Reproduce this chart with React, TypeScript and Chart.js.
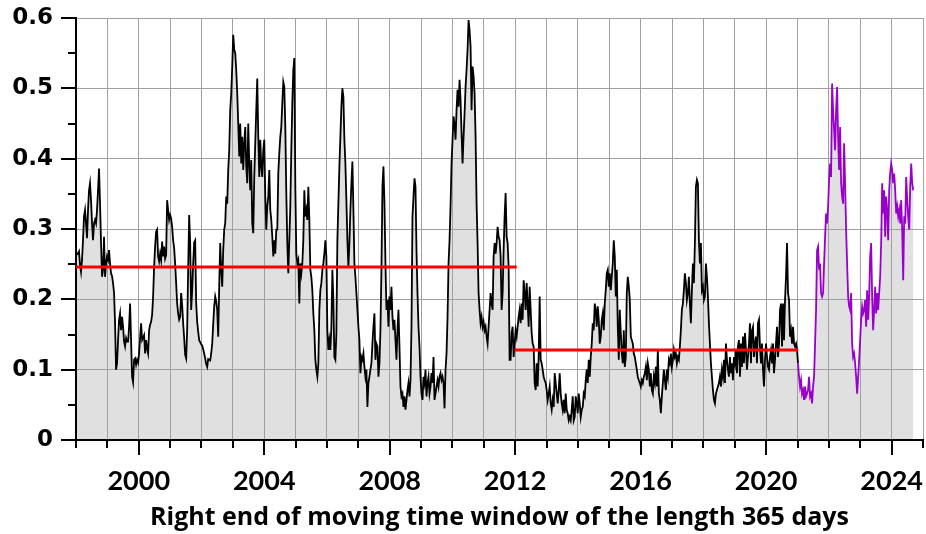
import React, { useEffect, useRef } from 'react';
import { Chart, registerables } from 'chart.js';

Chart.register(...registerables);

// Sampling of the moving-window series (right end of the 365-day window)
const START_YEAR = 1998.0;
const SAMPLE_DAYS = 11.66;
const PURPLE_FROM_YEAR = 2021.0;

const v1998_2002 = [
  0.268, 0.264, 0.265, 0.268, 0.249, 0.239, 0.256, 0.284, 0.318, 0.327,
  0.308, 0.287, 0.327, 0.355, 0.365, 0.341, 0.308, 0.284, 0.308, 0.313,
  0.308, 0.327, 0.355, 0.386, 0.336, 0.280, 0.232, 0.242, 0.289, 0.232,
  0.251, 0.261, 0.256, 0.270, 0.251, 0.237, 0.233, 0.223, 0.209, 0.166,
  0.100, 0.109, 0.142, 0.171, 0.180, 0.156, 0.175, 0.161, 0.140, 0.133,
  0.145, 0.140, 0.140, 0.161, 0.194, 0.142, 0.090, 0.082, 0.114, 0.116,
  0.107, 0.114, 0.110, 0.123, 0.145, 0.166, 0.142, 0.145, 0.149, 0.123,
  0.142, 0.130, 0.123, 0.156, 0.164, 0.168, 0.178, 0.204, 0.246, 0.275,
  0.296, 0.299, 0.261, 0.254, 0.265, 0.256, 0.282, 0.261, 0.275, 0.258,
  0.263, 0.341, 0.327, 0.313, 0.320, 0.315, 0.303, 0.284, 0.273, 0.251,
  0.223, 0.194, 0.180, 0.171, 0.175, 0.209, 0.192, 0.166, 0.145, 0.121,
  0.116, 0.156, 0.242, 0.320, 0.280, 0.185, 0.213, 0.251, 0.281, 0.284,
  0.194, 0.168, 0.154, 0.142, 0.139, 0.136, 0.134, 0.129, 0.123, 0.116,
  0.108, 0.104, 0.115, 0.114, 0.113, 0.123, 0.137, 0.164, 0.190, 0.204,
  0.197,
];

const v2002_2006 = [
  0.185, 0.147, 0.218, 0.280, 0.242, 0.218, 0.270, 0.299, 0.308, 0.346,
  0.336, 0.384, 0.412, 0.469, 0.493, 0.531, 0.576, 0.555, 0.550, 0.526,
  0.493, 0.450, 0.403, 0.450, 0.393, 0.431, 0.384, 0.422, 0.445, 0.389,
  0.365, 0.450, 0.393, 0.355, 0.398, 0.308, 0.294, 0.374, 0.422, 0.469,
  0.514, 0.431, 0.374, 0.427, 0.389, 0.374, 0.412, 0.427, 0.346, 0.299,
  0.332, 0.346, 0.384, 0.327, 0.313, 0.289, 0.261, 0.284, 0.265, 0.299,
  0.299, 0.379, 0.408, 0.431, 0.445, 0.479, 0.509, 0.502, 0.445, 0.351,
  0.280, 0.237, 0.284, 0.332, 0.412, 0.479, 0.526, 0.543, 0.360, 0.265,
  0.251, 0.256, 0.194, 0.251, 0.237, 0.251, 0.284, 0.355, 0.318, 0.327,
  0.313, 0.360, 0.313, 0.242, 0.232, 0.213, 0.180, 0.156, 0.114, 0.100,
  0.090, 0.109, 0.185, 0.213, 0.223, 0.242, 0.251, 0.265, 0.284, 0.261,
  0.156, 0.128, 0.142, 0.128, 0.161, 0.242, 0.199, 0.118, 0.114, 0.152,
  0.284, 0.336, 0.389, 0.431, 0.474, 0.500, 0.488, 0.427, 0.393, 0.341,
  0.284, 0.246, 0.280, 0.327, 0.365, 0.396, 0.327,
];

const v2006_2011 = [
  0.251, 0.232, 0.209, 0.185, 0.161, 0.142, 0.095, 0.118, 0.114, 0.123,
  0.104, 0.090, 0.100, 0.047, 0.081, 0.090, 0.100, 0.109, 0.137, 0.161,
  0.180, 0.114, 0.137, 0.133, 0.090, 0.109, 0.156, 0.242, 0.360, 0.389,
  0.336, 0.251, 0.185, 0.199, 0.161, 0.204, 0.185, 0.218, 0.175, 0.156,
  0.171, 0.142, 0.114, 0.156, 0.185, 0.133, 0.076, 0.062, 0.066, 0.047,
  0.062, 0.043, 0.057, 0.071, 0.081, 0.062, 0.085, 0.161, 0.318, 0.346,
  0.372, 0.360, 0.270, 0.209, 0.161, 0.133, 0.090, 0.066, 0.057, 0.090,
  0.081, 0.100, 0.062, 0.081, 0.090, 0.066, 0.076, 0.095, 0.081, 0.118,
  0.057, 0.066, 0.076, 0.085, 0.076, 0.090, 0.095, 0.085, 0.090, 0.081,
  0.045, 0.100, 0.123, 0.175, 0.251, 0.284, 0.332, 0.393, 0.427, 0.460,
  0.450, 0.427, 0.469, 0.498, 0.474, 0.512, 0.483, 0.436, 0.393, 0.431,
  0.464, 0.502, 0.526, 0.555, 0.597, 0.583, 0.559, 0.469, 0.531, 0.517,
  0.493, 0.431, 0.336, 0.280, 0.209, 0.185, 0.166, 0.175, 0.161, 0.168,
  0.156, 0.161, 0.147, 0.137, 0.161, 0.185, 0.209, 0.194,
];

const v2011_2015 = [
  0.185, 0.261, 0.280, 0.265, 0.280, 0.303, 0.289, 0.284, 0.261, 0.185,
  0.209, 0.270, 0.318, 0.351, 0.289, 0.280, 0.246, 0.114, 0.114, 0.152,
  0.161, 0.118, 0.137, 0.156, 0.147, 0.161, 0.175, 0.185, 0.166, 0.194,
  0.171, 0.227, 0.209, 0.185, 0.223, 0.194, 0.161, 0.218, 0.185, 0.152,
  0.137, 0.133, 0.081, 0.071, 0.109, 0.076, 0.118, 0.204, 0.114, 0.109,
  0.100, 0.090, 0.085, 0.081, 0.071, 0.057, 0.066, 0.076, 0.052, 0.043,
  0.057, 0.047, 0.095, 0.081, 0.066, 0.052, 0.071, 0.095, 0.066, 0.052,
  0.043, 0.057, 0.038, 0.066, 0.043, 0.038, 0.028, 0.033, 0.028, 0.043,
  0.062, 0.028, 0.033, 0.062, 0.052, 0.038, 0.066, 0.052, 0.033, 0.043,
  0.047, 0.066, 0.062, 0.085, 0.100, 0.081, 0.114, 0.090, 0.118, 0.137,
  0.166, 0.156, 0.194, 0.185, 0.161, 0.190, 0.171, 0.137, 0.147, 0.171,
  0.180, 0.156, 0.194, 0.213, 0.237, 0.242, 0.218, 0.237, 0.213, 0.232,
  0.251, 0.284, 0.261, 0.204, 0.242, 0.161, 0.114, 0.185, 0.152, 0.123,
  0.109, 0.156, 0.104, 0.118, 0.209, 0.232, 0.218, 0.199,
];

const v2015_2020 = [
  0.147, 0.142, 0.137, 0.123, 0.118, 0.109, 0.100, 0.090, 0.085, 0.081,
  0.076, 0.085, 0.081, 0.090, 0.095, 0.104, 0.085, 0.109, 0.100, 0.076,
  0.095, 0.071, 0.066, 0.090, 0.081, 0.104, 0.076, 0.128, 0.066, 0.057,
  0.038, 0.062, 0.081, 0.100, 0.085, 0.071, 0.100, 0.090, 0.114, 0.109,
  0.123, 0.104, 0.114, 0.128, 0.118, 0.123, 0.109, 0.118, 0.114, 0.133,
  0.156, 0.185, 0.194, 0.213, 0.237, 0.223, 0.199, 0.209, 0.232, 0.194,
  0.166, 0.213, 0.251, 0.223, 0.280, 0.360, 0.370, 0.365, 0.284, 0.251,
  0.280, 0.213, 0.218, 0.199, 0.204, 0.251, 0.232, 0.204, 0.166, 0.137,
  0.109, 0.090, 0.071, 0.057, 0.052, 0.066, 0.071, 0.076, 0.081, 0.090,
  0.076, 0.100, 0.090, 0.114, 0.081, 0.137, 0.114, 0.100, 0.090, 0.118,
  0.095, 0.109, 0.085, 0.118, 0.109, 0.128, 0.095, 0.133, 0.142, 0.090,
  0.137, 0.104, 0.147, 0.109, 0.152, 0.128, 0.100, 0.118, 0.137, 0.166,
  0.109, 0.156, 0.161, 0.118, 0.137, 0.147, 0.109, 0.166, 0.171, 0.133,
  0.109, 0.137, 0.100, 0.076, 0.114, 0.137, 0.118, 0.104,
];

const v2020_2024 = [
  0.100, 0.118, 0.128, 0.109, 0.137, 0.095, 0.114, 0.137, 0.161, 0.118,
  0.137, 0.185, 0.194, 0.133, 0.194, 0.142, 0.199, 0.232, 0.280, 0.209,
  0.199, 0.147, 0.156, 0.137, 0.161, 0.137, 0.133, 0.137, 0.128, 0.109,
  0.090, 0.076, 0.085, 0.066, 0.071, 0.057, 0.076, 0.062, 0.066, 0.071,
  0.090, 0.062, 0.066, 0.052, 0.076, 0.090, 0.137, 0.185, 0.270, 0.275,
  0.242, 0.251, 0.209, 0.204, 0.209, 0.251, 0.289, 0.322, 0.308, 0.332,
  0.370, 0.393, 0.374, 0.507, 0.469, 0.441, 0.412, 0.469, 0.502, 0.431,
  0.384, 0.445, 0.365, 0.346, 0.336, 0.422, 0.365, 0.299, 0.251, 0.204,
  0.190, 0.185, 0.209, 0.137, 0.118, 0.123, 0.109, 0.090, 0.066, 0.090,
  0.114, 0.142, 0.171, 0.190, 0.180, 0.185, 0.199, 0.161, 0.213, 0.171,
  0.204, 0.261, 0.280, 0.204, 0.156, 0.185, 0.218, 0.180, 0.209, 0.185,
  0.209, 0.232, 0.280, 0.365, 0.322, 0.355, 0.289, 0.346, 0.327, 0.284,
  0.355, 0.379, 0.393, 0.384, 0.365, 0.379, 0.355, 0.322, 0.332, 0.318,
  0.327, 0.308, 0.341, 0.299, 0.227, 0.318, 0.308, 0.374, 0.341, 0.318,
  0.299, 0.360, 0.393, 0.365, 0.355,
];

// Period means (red lines)
const mean1Years = [1998.0, 2012.05];
const mean1Value = 0.246;
const mean2Years = [2011.98, 2021.02];
const mean2Value = 0.128;

// Axes
const X_MIN = 1998;
const X_MAX = 2025;
const Y_MIN = 0;
const Y_MAX = 0.6;
const Y_STEP = 0.1;
const X_LABEL_EVERY = 4;
const X_TITLE = 'Right end of moving time window of the length 365 days';

const allValues = [
  ...v1998_2002,
  ...v2002_2006,
  ...v2006_2011,
  ...v2011_2015,
  ...v2015_2020,
  ...v2020_2024,
];

const tickMarks = {
  id: 'tickMarks',
  afterDraw(chart: any) {
    const { ctx, chartArea } = chart;
    const x = chart.scales.x;
    const y = chart.scales.y;
    ctx.save();
    ctx.strokeStyle = '#000';
    ctx.lineWidth = 2;
    ctx.beginPath();
    for (let yr = X_MIN; yr <= X_MAX; yr++) {
      const px = Math.round(x.getPixelForValue(yr));
      const len = yr % X_LABEL_EVERY === 0 ? 15 : 8;
      ctx.moveTo(px, chartArea.bottom);
      ctx.lineTo(px, chartArea.bottom + len);
    }
    const n = Math.round((Y_MAX - Y_MIN) / (Y_STEP / 2));
    for (let i = 0; i <= n; i++) {
      const v = Y_MIN + (i * Y_STEP) / 2;
      const py = Math.round(y.getPixelForValue(v));
      const len = i % 2 === 0 ? 15 : 8;
      ctx.moveTo(chartArea.left, py);
      ctx.lineTo(chartArea.left - len, py);
    }
    ctx.stroke();
    ctx.restore();
  },
};

const noScalePadding = (s: any) => {
  s.paddingTop = 0;
  s.paddingBottom = 0;
  s.paddingLeft = 0;
  s.paddingRight = 0;
};

export default function App() {
  const ref = useRef<HTMLCanvasElement | null>(null);

  useEffect(() => {
    document.body.style.margin = '0';
    const canvas = ref.current;
    if (!canvas) return;
    const points = allValues.map((v, i) => ({
      x: START_YEAR + (i * SAMPLE_DAYS) / 365.25,
      y: v,
    }));
    const chart = new Chart(canvas, {
      type: 'line',
      data: {
        datasets: [
          {
            data: [
              { x: mean1Years[0], y: mean1Value },
              { x: mean1Years[1], y: mean1Value },
            ],
            borderColor: '#ff0000',
            borderWidth: 3,
            pointRadius: 0,
            fill: false,
            order: 0,
          },
          {
            data: [
              { x: mean2Years[0], y: mean2Value },
              { x: mean2Years[1], y: mean2Value },
            ],
            borderColor: '#ff0000',
            borderWidth: 3,
            pointRadius: 0,
            fill: false,
            order: 0,
          },
          {
            data: points,
            borderColor: '#000000',
            borderWidth: 1.8,
            pointRadius: 0,
            fill: 'origin',
            backgroundColor: '#e0e0e0',
            tension: 0,
            order: 1,
            segment: {
              borderColor: (c: any) =>
                c.p0.parsed.x >= PURPLE_FROM_YEAR ? '#9900cc' : '#000000',
            },
          },
        ],
      },
      options: {
        animation: false,
        responsive: false,
        events: [],
        layout: { padding: { left: 0, right: 3, top: 18, bottom: 0 } },
        plugins: {
          legend: { display: false },
          tooltip: { enabled: false },
          filler: { drawTime: 'beforeDraw' },
        } as any,
        scales: {
          x: {
            type: 'linear',
            min: X_MIN,
            max: X_MAX,
            afterFit: (s: any) => {
              s.height = 94;
              noScalePadding(s);
            },
            ticks: {
              stepSize: 1,
              autoSkip: false,
              maxRotation: 0,
              color: '#000',
              padding: 25,
              font: { family: 'Lato', weight: 'bold', size: 27 },
              callback: (v: any) => (Number(v) % X_LABEL_EVERY === 0 ? String(v) : ''),
            },
            grid: { color: '#a0a0a0', lineWidth: 1, drawTicks: false },
            border: { color: '#000', width: 2 },
            title: {
              display: true,
              text: X_TITLE,
              color: '#000',
              font: { family: 'Open Sans', weight: 'bold', size: 25 },
              padding: { top: 0, bottom: 1 },
            },
          },
          y: {
            min: Y_MIN,
            max: Y_MAX,
            afterFit: (s: any) => {
              s.width = 76;
              noScalePadding(s);
            },
            ticks: {
              stepSize: Y_STEP,
              color: '#000',
              padding: 23,
              font: { family: 'DejaVu Sans', weight: 'bold', size: 23 },
              callback: (v: any) => (Number(v) === 0 ? '0' : Number(v).toFixed(1)),
            },
            grid: { color: '#a0a0a0', lineWidth: 1, drawTicks: false },
            border: { color: '#000', width: 2 },
          },
        },
      } as any,
      plugins: [tickMarks],
    });
    return () => chart.destroy();
  }, []);

  return (
    <div style={{ width: 926, height: 534 }}>
      <canvas ref={ref} width={926} height={534} style={{ display: 'block' }} />
    </div>
  );
}
